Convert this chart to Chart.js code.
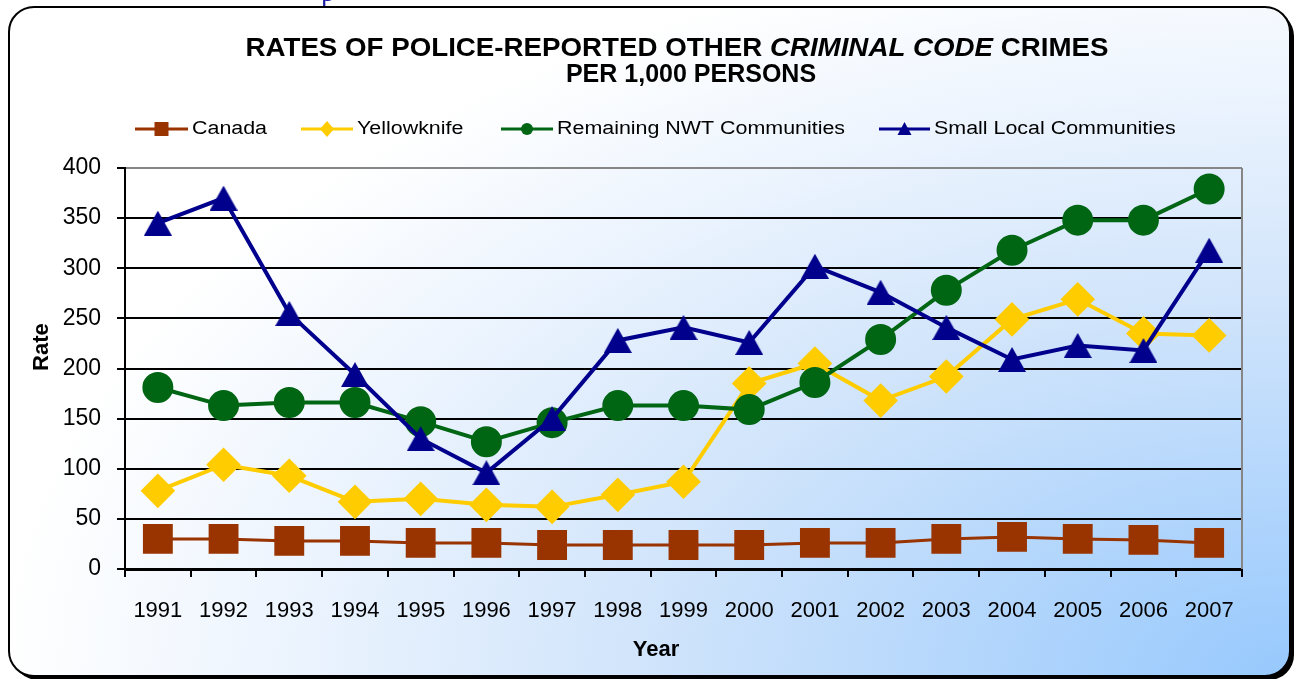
<!DOCTYPE html>
<html>
<head>
<meta charset="utf-8">
<title>Rates of police-reported other Criminal Code crimes</title>
<script src="https://cdn.jsdelivr.net/npm/chart.js@4/dist/chart.umd.min.js"></script>
<style>
  html, body { margin: 0; padding: 0; background: #fff; }
  canvas { display: block; }
</style>
</head>
<body>
<canvas id="myChart" width="1299" height="679"></canvas>
<script>
const years = ['1991', '1992', '1993', '1994', '1995', '1996', '1997', '1998', '1999',
               '2000', '2001', '2002', '2003', '2004', '2005', '2006', '2007'];
const canada       = [30, 30, 28, 28, 26, 26, 24, 24, 24, 24, 26, 26, 30, 32, 30, 29, 26];
const yellowknife  = [78, 104, 93, 67, 70, 64, 62, 74, 87, 185, 205, 168, 192, 249, 269, 235, 233];
const remainingNwt = [181, 163, 166, 166, 147, 127, 146, 163, 163, 159, 186, 229, 278, 318, 348, 348, 379];
const smallLocal   = [345, 370, 255, 194, 130, 96, 150, 228, 241, 226, 302, 276, 241, 209, 223, 218, 318];
const rateTicks    = [0, 50, 100, 150, 200, 250, 300, 350, 400];

const font = '"Liberation Sans", Arial, sans-serif';

// triangle marker centred on its box, like the spreadsheet's marker
function triangleMarker(color, w, h) {
    const c = document.createElement('canvas');
    c.width = w;
    c.height = h;
    const g = c.getContext('2d');
    g.fillStyle = color;
    g.beginPath();
    g.moveTo(w / 2, 0);
    g.lineTo(w, h);
    g.lineTo(0, h);
    g.closePath();
    g.fill();
    return c;
}

const data = {
    labels: years,
    datasets: [{
            label: 'Canada',
            data: canada,
            borderColor: '#993300',
            backgroundColor: '#993300',
            borderWidth: 3,
            pointStyle: 'rect',
            pointRadius: 19,
            order: 4
        }, {
            label: 'Yellowknife',
            data: yellowknife,
            borderColor: '#FFCC00',
            backgroundColor: '#FFCC00',
            borderWidth: 4,
            pointStyle: 'rectRot',
            pointRadius: 14.5,
            order: 3
        }, {
            label: 'Remaining NWT Communities',
            data: remainingNwt,
            borderColor: '#006614',
            backgroundColor: '#006614',
            borderWidth: 4,
            pointStyle: 'circle',
            pointRadius: 13.5,
            order: 2
        }, {
            label: 'Small Local Communities',
            data: smallLocal,
            borderColor: '#00008C',
            backgroundColor: '#00008C',
            borderWidth: 4,
            pointStyle: triangleMarker('#00008C', 28, 25),
            pointRadius: 13,
            order: 1
        }]
};

// panel with rounded border, shadow and gradient fill
const backdrop = {
    id: 'backdrop',
    beforeDraw(chart) {
        const ctx = chart.ctx;
        const W = chart.width, H = chart.height;
        ctx.save();
        ctx.fillStyle = '#fff';
        ctx.fillRect(0, 0, W, H);
        // bit of the page text above the chart
        ctx.fillStyle = '#1a1aa6';
        ctx.font = '28px "Liberation Serif", serif';
        ctx.textBaseline = 'alphabetic';
        ctx.fillText('p', 321, 1);

        ctx.fillStyle = '#000';
        ctx.beginPath();
        ctx.roundRect(13, 11, 1281, 669, 25);
        ctx.fill();

        ctx.beginPath();
        ctx.roundRect(9, 7, 1281, 669, 25);
        ctx.save();
        ctx.clip();
        ctx.translate(W, H);
        ctx.scale(1, 0.58);
        const g = ctx.createRadialGradient(0, 0, 0, 0, 0, 1300);
        g.addColorStop(0, '#96c8fd');
        g.addColorStop(0.5, '#d0e4fb');
        g.addColorStop(0.8, '#eef5fe');
        g.addColorStop(1, '#ffffff');
        ctx.fillStyle = g;
        ctx.fillRect(-W, -H / 0.58, W, H / 0.58);
        ctx.restore();
        ctx.lineWidth = 2;
        ctx.strokeStyle = '#000';
        ctx.stroke();
        ctx.restore();
    },
    beforeDatasetsDraw(chart) {
        const {ctx, chartArea} = chart;
        ctx.save();
        ctx.strokeStyle = '#868686';
        ctx.lineWidth = 2;
        ctx.beginPath();
        ctx.moveTo(chartArea.right, chartArea.top);
        ctx.lineTo(chartArea.right, chartArea.bottom);
        ctx.stroke();
        ctx.restore();
    }
};

// two-line title with the italic words
const heading = {
    id: 'heading',
    afterDraw(chart) {
        const ctx = chart.ctx;
        ctx.save();
        ctx.fillStyle = '#000';
        ctx.textBaseline = 'alphabetic';
        const parts = [
            ['bold', 'RATES OF POLICE-REPORTED OTHER '],
            ['italic bold', 'CRIMINAL CODE'],
            ['bold', ' CRIMES']
        ];
        let total = 0;
        parts.forEach(p => {
            ctx.font = p[0] + ' 25px ' + font;
            total += ctx.measureText(p[1]).width;
        });
        const target = 863;
        const sx = target / total;
        ctx.save();
        ctx.translate(677 - target / 2, 56);
        ctx.scale(sx, 1);
        let x = 0;
        parts.forEach(p => {
            ctx.font = p[0] + ' 25px ' + font;
            ctx.fillText(p[1], x, 0);
            x += ctx.measureText(p[1]).width;
        });
        ctx.restore();
        ctx.font = 'bold 25px ' + font;
        ctx.textAlign = 'center';
        ctx.fillText('PER 1,000 PERSONS', 691, 82);
        ctx.restore();
    }
};

// legend: line with marker, then label
const keyRow = {
    id: 'keyRow',
    afterDraw(chart) {
        const ctx = chart.ctx;
        const slots = [[135, 188], [301, 353], [501, 553], [879, 930]];
        const y = 129;
        ctx.save();
        chart.data.datasets.forEach((ds, i) => {
            const [x0, x1] = slots[i];
            const cx = (x0 + x1) / 2;
            ctx.strokeStyle = ds.borderColor;
            ctx.lineWidth = 3;
            ctx.beginPath();
            ctx.moveTo(x0, y);
            ctx.lineTo(x1, y);
            ctx.stroke();
            ctx.fillStyle = ds.backgroundColor;
            ctx.beginPath();
            if (i === 0) {
                ctx.rect(cx - 7, cy(y) - 7, 14, 14);
            } else if (i === 1) {
                ctx.moveTo(cx, y - 8);
                ctx.lineTo(cx + 7, y);
                ctx.lineTo(cx, y + 8);
                ctx.lineTo(cx - 7, y);
                ctx.closePath();
            } else if (i === 2) {
                ctx.arc(cx, y, 6, 0, Math.PI * 2);
            } else {
                ctx.moveTo(cx, y - 7);
                ctx.lineTo(cx + 7, y + 6);
                ctx.lineTo(cx - 7, y + 6);
                ctx.closePath();
            }
            ctx.fill();

            ctx.save();
            ctx.fillStyle = '#000';
            ctx.font = '18px ' + font;
            ctx.textBaseline = 'middle';
            ctx.translate(x1 + 4, y);
            ctx.scale(1.19, 1);
            ctx.fillText(ds.label, 0, 0);
            ctx.restore();
        });
        ctx.restore();
        function cy(v) { return v; }
    }
};

const config = {
    type: 'line',
    data: data,
    plugins: [backdrop, heading, keyRow],
    options: {
        responsive: false,
        animation: false,
        events: [],
        layout: {
            padding: {top: 168, right: 57, bottom: 0, left: 0}
        },
        plugins: {
            legend: {display: false},
            title: {display: false},
            tooltip: {enabled: false}
        },
        scales: {
            x: {
                offset: true,
                afterFit(scale) { scale.height = 110; },
                grid: {
                    offset: true,
                    drawOnChartArea: false,
                    drawTicks: true,
                    tickLength: 8,
                    color: '#000',
                    lineWidth: 2
                },
                border: {color: '#000', width: 3},
                ticks: {
                    color: '#000',
                    padding: 21,
                    font: {family: font, size: 22}
                },
                title: {
                    display: true,
                    text: 'Year         ',
                    color: '#000',
                    padding: {top: 0, bottom: 16},
                    font: {family: font, size: 22, weight: 'bold'}
                }
            },
            y: {
                min: 0,
                max: 400,
                afterFit(scale) { scale.width = 125; },
                afterBuildTicks(scale) {
                    scale.ticks = rateTicks.map(v => ({value: v}));
                },
                grid: {
                    color: ctx => ctx.tick && ctx.tick.value === 400 ? '#868686' : '#000',
                    lineWidth: 2,
                    drawTicks: true,
                    tickLength: 8,
                    tickColor: '#000',
                    tickWidth: 2
                },
                border: {color: '#000', width: 2},
                ticks: {
                    color: '#000',
                    padding: 16,
                    font: {family: font, size: 23}
                },
                title: {
                    display: true,
                    text: '       Rate',
                    color: '#000',
                    padding: {top: 29, bottom: 0},
                    font: {family: font, size: 22, weight: 'bold'}
                }
            }
        }
    }
};

// =================

var ctx = document.getElementById('myChart');
const myChart = new Chart(
        ctx,
        config
        );
</script>
</body>
</html>
